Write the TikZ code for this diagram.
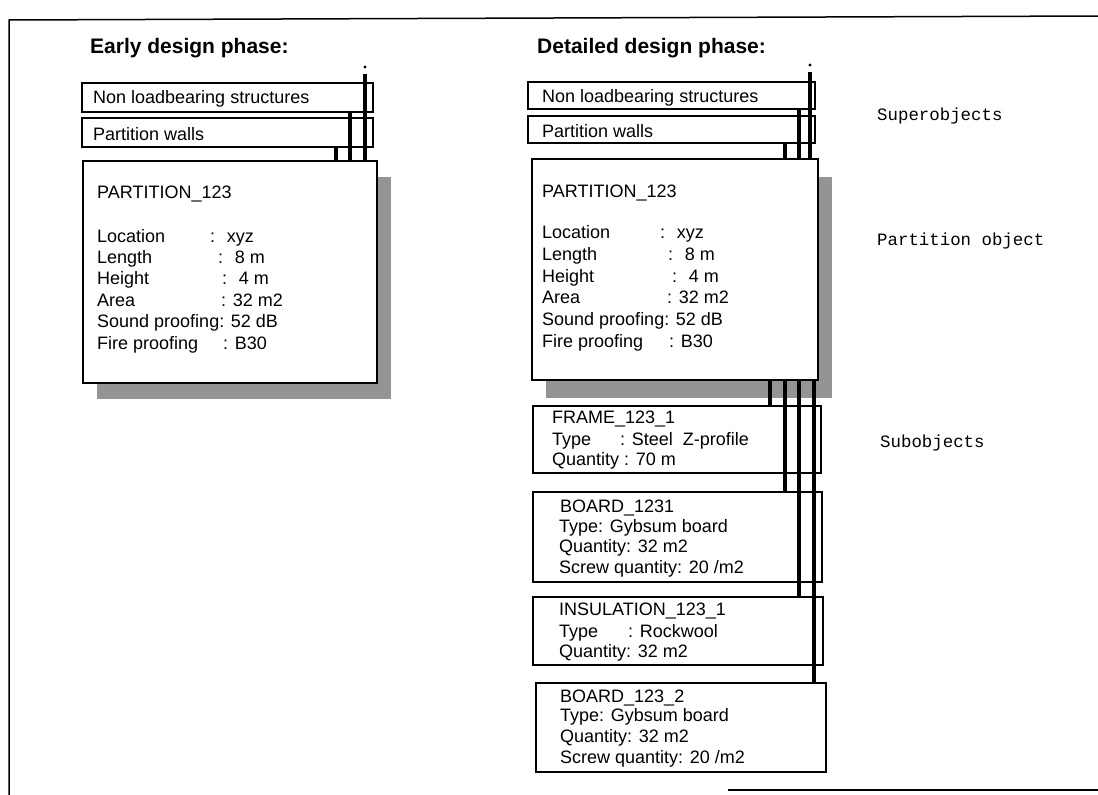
\documentclass[tikz,border=0pt]{standalone}
\usepackage{fontspec}
\setmainfont{Liberation Sans}
\setmonofont{Liberation Mono}
\newcommand\kvl[6]{\node[txt] (#1) at (#2,#3) {#4}; \node[txt] (#1v) at ({#2+#5},#3) {#6};}
\begin{document}
\begin{tikzpicture}[x=1pt,y=-1pt,
  box/.style={draw, line width=1.2pt, fill=white, anchor=north west, inner sep=0pt, outer sep=0pt},
  bigbox/.style={box, line width=2.8pt},
  shade/.style={fill=black!42, draw=none, anchor=north west, inner sep=0pt, outer sep=0pt},
  txt/.style={anchor=base west, inner sep=0pt, font=\fontsize{18}{20}\selectfont},
  ttl/.style={anchor=base west, inner sep=0pt, font=\bfseries\fontsize{21}{24}\selectfont},
  mono/.style={anchor=base west, inner sep=0pt, font=\ttfamily\fontsize{17.4}{20}\selectfont},
  conn/.style={line width=3.4pt},
  framel/.style={line width=1.5pt}]
\useasboundingbox (0,0) rectangle (1098,795);
% page frame
\coordinate (fbl) at (9,795);
\coordinate (ftl) at (9,20);
\coordinate (ftr) at (1098,16);
\draw[framel] (fbl) -- (ftl) -- (ftr);
\coordinate (bb1) at (728,790);
\coordinate (bb2) at (1098,790);
\draw[line width=1.3pt] (bb1) -- (bb2);

% titles
\node[ttl] (t1) at (90,53) {Early design phase:};
\node[ttl] (t2) at (537,53) {Detailed design phase:};

% ---------- left panel ----------
\node[box, minimum width=291pt, minimum height=29pt] (lnl) at (82,83) {};
\node[box, minimum width=291pt, minimum height=29pt] (lpw) at (82,118) {};
\node[shade, minimum width=294pt, minimum height=222pt] (lsh) at (97,177) {};
\node[bigbox, minimum width=294pt, minimum height=222pt] (lpart) at (83,161) {};
\node[txt] (lnlt) at (93,103) {Non loadbearing structures};
\node[txt] (lpwt) at (93,140) {Partition walls};
\coordinate (la) at (365,74);
\coordinate (lb) at (350,0);
\coordinate (lc) at (336,0);
\fill (365,67) circle (1.7pt);
\draw[conn] (la) -- (la |- lpart.north);
\draw[conn] (lb |- lnl.south) -- (lb |- lpart.north);
\draw[conn] (lc |- lpw.south) -- (lc |- lpart.north);
\node[txt] (lpn) at (97,198) {PARTITION\_123};
\kvl{lloc}{97}{242}{Location}{113}{: \ xyz}
\kvl{llen}{97}{263}{Length}{121}{: \ 8 m}
\kvl{lhei}{97}{284}{Height}{125}{: \ 4 m}
\kvl{lare}{97}{306}{Area}{124}{: 32 m2}
\node[txt] (lsnd) at (97,327) {Sound proofing: 52 dB};
\kvl{lfir}{97}{349}{Fire proofing}{126}{: B30}

% ---------- right panel ----------
\node[box, minimum width=287pt, minimum height=27pt] (rnl) at (528,82) {};
\node[box, minimum width=287pt, minimum height=27pt] (rpw) at (528,116) {};
\node[shade, minimum width=286pt, minimum height=221pt] (rsh) at (546,177) {};
\node[bigbox, minimum width=286pt, minimum height=221pt] (rpart) at (532,159) {};
\node[txt] (rnlt) at (542,102) {Non loadbearing structures};
\node[txt] (rpwt) at (542,137) {Partition walls};
\coordinate (ra) at (810,72);
\coordinate (rb) at (799,0);
\coordinate (rc) at (785,0);
\fill (810,65) circle (1.7pt);
\draw[conn] (ra) -- (ra |- rpart.north);
\draw[conn] (rb |- rnl.south) -- (rb |- rpart.north);
\draw[conn] (rc |- rpw.south) -- (rc |- rpart.north);
\node[txt] (rpn) at (542,197) {PARTITION\_123};
\kvl{rloc}{542}{238}{Location}{118}{: \ xyz}
\kvl{rlen}{542}{260}{Length}{126}{: \ 8 m}
\kvl{rhei}{542}{282}{Height}{130}{: \ 4 m}
\kvl{rare}{542}{303}{Area}{125}{: 32 m2}
\node[txt] (rsnd) at (542,325) {Sound proofing: 52 dB};
\kvl{rfir}{542}{347}{Fire proofing}{127}{: B30}

% subobjects
\node[box, minimum width=288pt, minimum height=67pt] (frame) at (533,406) {};
\node[box, minimum width=289pt, minimum height=90pt] (board1) at (533,492) {};
\node[box, minimum width=290pt, minimum height=68pt] (insul) at (533,597) {};
\node[box, minimum width=290pt, minimum height=89pt] (board2) at (536,683) {};

\node[txt] (fr1) at (552,423) {FRAME\_123\_1};
\kvl{fr2}{552}{445}{Type}{68}{: Steel \ Z-profile}
\node[txt] (fr3) at (552,465) {Quantity : 70 m};

\node[txt] (b11) at (560,512) {BOARD\_1231};
\node[txt] (b12) at (559,532) {Type: Gybsum board};
\node[txt] (b13) at (559,552) {Quantity: 32 m2};
\node[txt] (b14) at (559,573) {Screw quantity: 20 /m2};

\node[txt] (in1) at (559,615) {INSULATION\_123\_1};
\kvl{in2}{559}{637}{Type}{69}{: Rockwool}
\node[txt] (in3) at (559,657) {Quantity: 32 m2};

\node[txt] (b21) at (560,702) {BOARD\_123\_2};
\node[txt] (b22) at (560,721) {Type: Gybsum board};
\node[txt] (b23) at (560,742) {Quantity: 32 m2};
\node[txt] (b24) at (560,763) {Screw quantity: 20 /m2};

% sub connectors
\coordinate (s1) at (770,0);
\coordinate (s2) at (785,0);
\coordinate (s3) at (799,0);
\coordinate (s4) at (814,0);
\draw[conn] (s1 |- rpart.south) -- (s1 |- frame.north);
\draw[conn] (s2 |- rpart.south) -- (s2 |- board1.north);
\draw[conn] (s3 |- rpart.south) -- (s3 |- insul.north);
\draw[conn] (s4 |- rpart.south) -- (s4 |- board2.north);

% side labels
\node[mono] (lab1) at (877,120) {Superobjects};
\node[mono] (lab2) at (877,245) {Partition object};
\node[mono] (lab3) at (880,447) {Subobjects};
\end{tikzpicture}
\end{document}
